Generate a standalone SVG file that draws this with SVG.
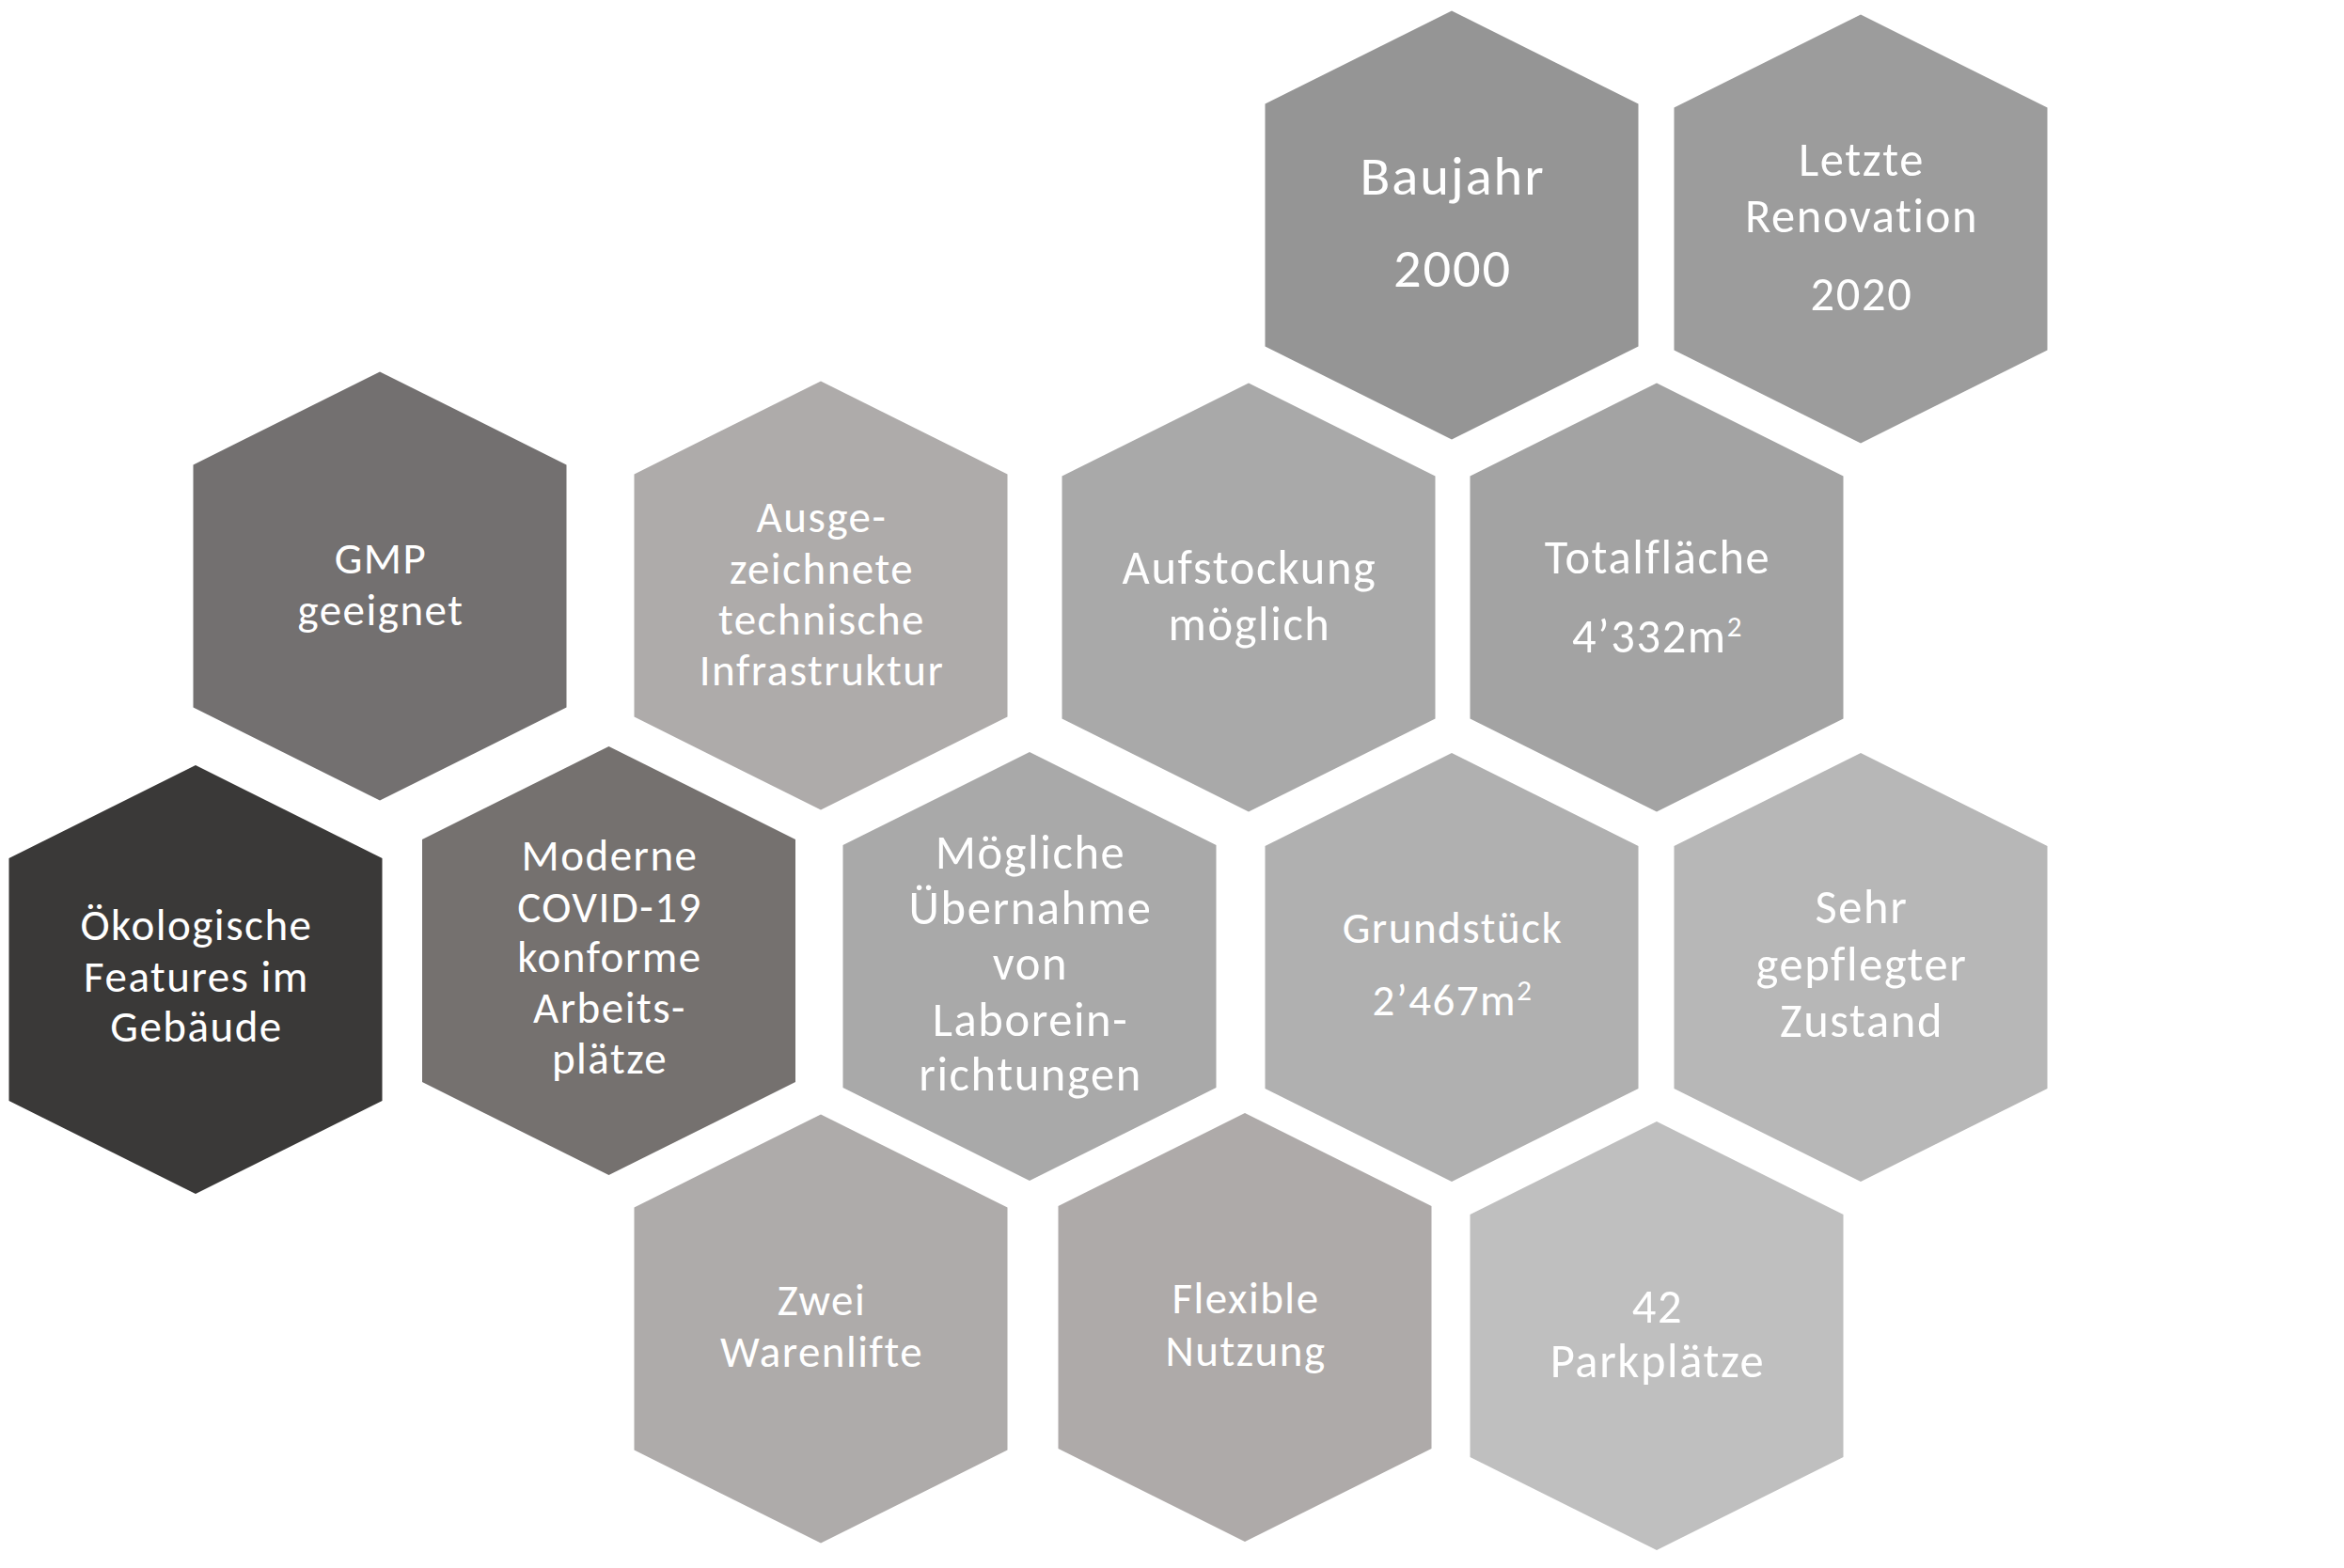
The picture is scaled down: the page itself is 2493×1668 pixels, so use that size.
<svg xmlns="http://www.w3.org/2000/svg" xmlns:xlink="http://www.w3.org/1999/xlink" width="2493" height="1668" viewBox="0 0 2493 1668">
<defs>
<polygon id="hex" points="0,-228 198.5,-129 198.5,129 0,228 -198.5,129 -198.5,-129"/>
<style>
.t{font-family:Carlito,Lato,"Open Sans",sans-serif;fill:#ffffff;text-anchor:middle;}
.s{font-size:47px;letter-spacing:1.5px;}
.m{font-size:50.5px;letter-spacing:1.6px;}
.l{font-size:58.5px;letter-spacing:1.9px;}
.sup{font-size:31px;}
</style>
</defs>
<rect width="2493" height="1668" fill="#ffffff"/>
<g id="connectors"/>
<g id="baujahr">
<use xlink:href="#hex" href="#hex" x="1544" y="239.5" fill="#959595"/>
<text class="t l" x="1545" y="207">Baujahr</text>
<text class="t l" x="1545" y="305">2000</text>
</g>
<g id="renovation">
<use xlink:href="#hex" href="#hex" x="1979" y="243.5" fill="#9c9c9c"/>
<text class="t m" x="1980" y="187">Letzte</text>
<text class="t m" x="1980" y="247">Renovation</text>
<text class="t m" x="1980" y="330">2020</text>
</g>
<g id="gmp">
<use xlink:href="#hex" href="#hex" x="404" y="623.5" fill="#737070"/>
<text class="t s" x="405" y="610">GMP</text>
<text class="t s" x="405" y="665">geeignet</text>
</g>
<g id="infrastruktur">
<use xlink:href="#hex" href="#hex" x="873" y="633.5" fill="#aeabaa"/>
<text class="t s" x="874" y="566">Ausge-</text>
<text class="t s" x="874" y="621">zeichnete</text>
<text class="t s" x="874" y="675">technische</text>
<text class="t s" x="874" y="729">Infrastruktur</text>
</g>
<g id="aufstockung">
<use xlink:href="#hex" href="#hex" x="1328" y="635.5" fill="#a9a9a9"/>
<text class="t m" x="1329" y="621">Aufstockung</text>
<text class="t m" x="1329" y="681">möglich</text>
</g>
<g id="totalflaeche">
<use xlink:href="#hex" href="#hex" x="1762" y="635.5" fill="#a3a3a3"/>
<text class="t m" x="1763" y="610">Totalfläche</text>
<text class="t m" x="1763" y="694">4’332m<tspan class="sup" dy="-17">2</tspan></text>
</g>
<g id="oekologisch">
<use xlink:href="#hex" href="#hex" x="208" y="1042" fill="#3a3938"/>
<text class="t s" x="209" y="1000">Ökologische</text>
<text class="t s" x="209" y="1055">Features im</text>
<text class="t s" x="209" y="1108">Gebäude</text>
</g>
<g id="arbeitsplaetze">
<use xlink:href="#hex" href="#hex" x="647.5" y="1022" fill="#75716f"/>
<text class="t s" x="648.5" y="926">Moderne</text>
<text class="t s" x="648.5" y="981">COVID-19</text>
<text class="t s" x="648.5" y="1034">konforme</text>
<text class="t s" x="648.5" y="1088">Arbeits-</text>
<text class="t s" x="648.5" y="1142">plätze</text>
</g>
<g id="laboreinrichtungen">
<use xlink:href="#hex" href="#hex" x="1095" y="1028" fill="#a9a9a9"/>
<text class="t m" x="1096" y="924">Mögliche</text>
<text class="t m" x="1096" y="983">Übernahme</text>
<text class="t m" x="1096" y="1042">von</text>
<text class="t m" x="1096" y="1102">Laborein-</text>
<text class="t m" x="1096" y="1160">richtungen</text>
</g>
<g id="grundstueck">
<use xlink:href="#hex" href="#hex" x="1544" y="1029" fill="#b0b0b0"/>
<text class="t s" x="1545" y="1003">Grundstück</text>
<text class="t s" x="1545" y="1080">2’467m<tspan class="sup" dy="-16">2</tspan></text>
</g>
<g id="zustand">
<use xlink:href="#hex" href="#hex" x="1979" y="1029" fill="#b7b7b7"/>
<text class="t m" x="1980" y="982">Sehr</text>
<text class="t m" x="1980" y="1043">gepflegter</text>
<text class="t m" x="1980" y="1103">Zustand</text>
</g>
<g id="warenlifte">
<use xlink:href="#hex" href="#hex" x="873" y="1413.5" fill="#aeabaa"/>
<text class="t s" x="874" y="1399">Zwei</text>
<text class="t s" x="874" y="1454">Warenlifte</text>
</g>
<g id="nutzung">
<use xlink:href="#hex" href="#hex" x="1324" y="1412" fill="#aeaaa9"/>
<text class="t s" x="1325" y="1397">Flexible</text>
<text class="t s" x="1325" y="1453">Nutzung</text>
</g>
<g id="parkplaetze">
<use xlink:href="#hex" href="#hex" x="1762" y="1421" fill="#bfbfbf"/>
<text class="t m" x="1763" y="1407">42</text>
<text class="t m" x="1763" y="1465">Parkplätze</text>
</g>
</svg>
